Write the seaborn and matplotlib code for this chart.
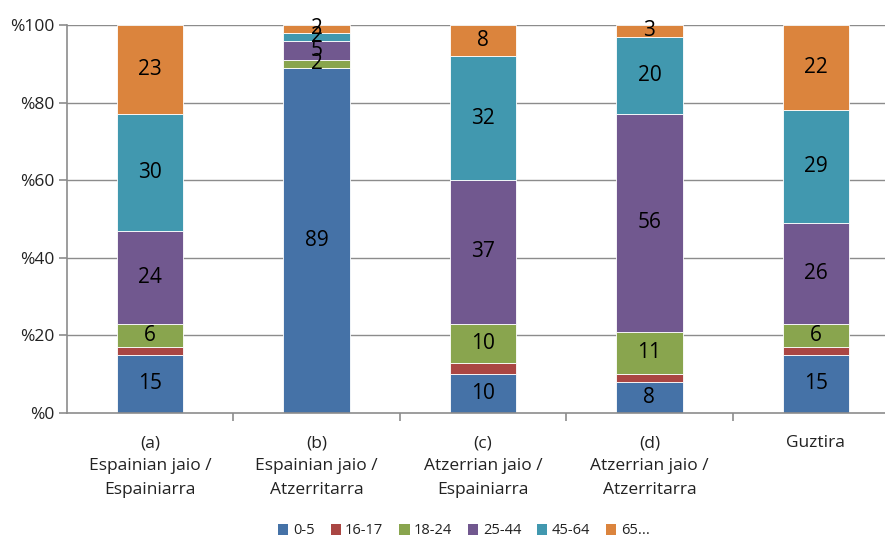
import numpy as np
import matplotlib
matplotlib.use("Agg")
import matplotlib.pyplot as plt
from matplotlib.patches import Patch
import seaborn as sns

# Age-group shares (%) by birthplace / nationality group
categories = ["(a)\nEspainian jaio /\nEspainiarra",
              "(b)\nEspainian jaio /\nAtzerritarra",
              "(c)\nAtzerrian jaio /\nEspainiarra",
              "(d)\nAtzerrian jaio /\nAtzerritarra",
              "Guztira"]
age_groups = ["0-5", "16-17", "18-24", "25-44", "45-64", "65..."]
s_0_5 = [15, 89, 10, 8, 15]
s_16_17 = [2, 0, 3, 2, 2]
s_18_24 = [6, 2, 10, 11, 6]
s_25_44 = [24, 5, 37, 56, 26]
s_45_64 = [30, 2, 32, 20, 29]
s_65 = [23, 2, 8, 3, 22]
series = [s_0_5, s_16_17, s_18_24, s_25_44, s_45_64, s_65]
labelled = [True, False, True, True, True, True]
y_ticks = [0, 20, 40, 60, 80, 100]
y_tick_labels = ["%0", "%20", "%40", "%60", "%80", "%100"]

colors = ["#4572A7", "#AA4643", "#89A54E", "#71588F", "#4198AF", "#DB843D"]

sns.set_style("white")
plt.rcParams["font.family"] = ["Open Sans", "DejaVu Sans"]

W, H = 885, 540
fig = plt.figure(figsize=(W / 100, H / 100), dpi=100)
ax = fig.add_axes([67 / W, (H - 413) / H, (899 - 67) / W, (413 - 25) / H])

grid_c = "#8c8c8c"
for yv in y_ticks[1:]:
    ax.axhline(yv, color=grid_c, lw=1.0, zorder=0)

bottom = np.zeros(len(categories))
for name, vals, col, show in zip(age_groups, series, colors, labelled):
    vals = np.asarray(vals, dtype=float)
    sns.barplot(x=categories, y=vals, bottom=bottom, color=col, saturation=1,
                width=0.4, edgecolor="white", linewidth=0.6, ax=ax, zorder=2)
    cont = ax.containers[-1]
    if show:
        labs = [f"{v:g}" if v > 0 else "" for v in vals]
        ax.bar_label(cont, labels=labs, label_type="center", fontsize=15,
                     color="black", zorder=3)
    bottom = bottom + vals

ax.set_xlim(-0.5, 4.5)
ax.set_ylim(0, 100)
ax.set_yticks(y_ticks)
ax.set_yticklabels(y_tick_labels)
ax.set_xlabel("")
ax.set_ylabel("")

for side in ["top", "right"]:
    ax.spines[side].set_visible(False)
for side in ["left", "bottom"]:
    ax.spines[side].set_color(grid_c)
    ax.spines[side].set_linewidth(1.2)

ax.tick_params(axis="y", which="major", direction="out", length=6, width=1.2,
               color=grid_c, labelsize=12.5, pad=3, labelcolor="#222222", left=True)
ax.tick_params(axis="x", which="major", length=0, labelsize=12.5, pad=16,
               labelcolor="#222222")
ax.set_xticks([0.5, 1.5, 2.5, 3.5], minor=True)
ax.tick_params(axis="x", which="minor", direction="out", length=6, width=1.2,
               color=grid_c, bottom=True)
for t in ax.get_xticklabels():
    t.set_linespacing(1.6)

handles = [Patch(facecolor=c, edgecolor="none") for c in colors]
fig.legend(handles, age_groups, loc="center", bbox_to_anchor=(464 / W, 1 - 531 / H),
           ncol=6, frameon=False, fontsize=10.5, handlelength=0.7, handleheight=0.7,
           handletextpad=0.3, columnspacing=1.1, labelcolor="#222222")

fig.savefig("out.png", dpi=100)
